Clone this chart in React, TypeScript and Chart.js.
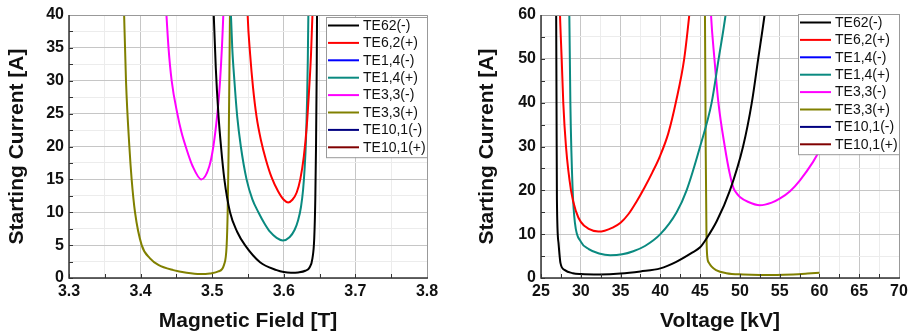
import React, { useEffect, useRef } from "react";
import { Chart, registerables } from "chart.js";

Chart.register(...registerables);

const FONT = "'Liberation Sans', Arial, Helvetica, sans-serif";

// ---------- shared series info ----------
const seriesLabels = ["TE62(-)", "TE6,2(+)", "TE1,4(-)", "TE1,4(+)", "TE3,3(-)", "TE3,3(+)", "TE10,1(-)", "TE10,1(+)"];
const seriesColors = ["#000000", "#ff0000", "#0000ff", "#0a8a80", "#ff00ff", "#808000", "#000080", "#800000"];

// ---------- left chart: magnetic field [T] vs starting current [A] ----------
const fieldTE62m = [3.5015, 3.505, 3.5086, 3.5123, 3.517, 3.5249, 3.535, 3.5458, 3.5668, 3.59, 3.6, 3.61, 3.62, 3.63, 3.636, 3.64, 3.6425, 3.644, 3.645, 3.646, 3.6465];
const currTE62m_B = [42, 32, 25, 20, 15, 10, 7, 5, 2.4, 1.2, 0.9, 0.8, 0.85, 1.1, 1.6, 3, 6, 12, 20, 32, 42];
const fieldTE62p = [3.549, 3.5495, 3.553, 3.557, 3.562, 3.568, 3.575, 3.583, 3.592, 3.6, 3.606, 3.612, 3.618, 3.623, 3.628, 3.632, 3.635, 3.638, 3.64, 3.6405];
const currTE62p_B = [42, 40, 34, 29, 24.5, 21, 18, 15.3, 13.2, 11.9, 11.5, 11.9, 13, 15, 18.5, 23, 28, 34, 40, 42];
const fieldTE14m: number[] = [];
const currTE14m_B: number[] = [];
const fieldTE14p = [3.5255, 3.528, 3.531, 3.535, 3.54, 3.548, 3.556, 3.5645, 3.573, 3.581, 3.59, 3.5985, 3.608, 3.615, 3.62, 3.624, 3.627, 3.629, 3.631, 3.6325, 3.6335, 3.6343, 3.635];
const currTE14p_B = [42, 35, 30, 24.5, 20, 15, 12, 10, 8.3, 7, 6.1, 5.7, 6.2, 7.3, 8.8, 10.8, 13.5, 16.5, 21, 27, 33, 40, 42];
const fieldTE33m = [3.435, 3.439, 3.4434, 3.4513, 3.457, 3.463, 3.4727, 3.4848, 3.496, 3.5016, 3.5072, 3.511, 3.5155, 3.516];
const currTE33m_B = [42, 35, 30, 25, 22.2, 20, 17, 15, 17, 20, 25, 30, 40, 42];
const fieldTE33p = [3.3765, 3.3796, 3.3843, 3.3875, 3.3922, 3.4015, 3.4131, 3.4248, 3.4457, 3.4643, 3.483, 3.497, 3.5086, 3.5165, 3.5202, 3.5216, 3.523, 3.5248, 3.525];
const currTE33p_B = [42, 30, 20, 15, 10, 5, 3, 2, 1.2, 0.8, 0.6, 0.7, 1.0, 2, 5, 10, 20, 40, 42];
const fieldTE101m: number[] = [];
const currTE101m_B: number[] = [];
const fieldTE101p: number[] = [];
const currTE101p_B: number[] = [];

// ---------- right chart: voltage [kV] vs starting current [A] ----------
const voltTE62m = [26.9, 26.95, 27.0, 27.2, 27.45, 28.0, 29.0, 30.0, 32.4, 35.0, 37.5, 40.0, 42.0, 44.0, 45.0, 45.8, 47.1, 48.75, 50.4, 51.5, 52.3, 53.1, 53.3];
const currTE62m_V = [63, 40, 18, 8, 3.4, 1.8, 1.1, 0.9, 0.8, 1.0, 1.5, 2.2, 3.7, 5.8, 7, 9, 13, 20, 30, 40, 50, 60, 63];
const voltTE62p = [27.35, 27.39, 27.6, 27.8, 28.14, 28.77, 29.4, 30.0, 31.0, 32.2, 33.0, 34.0, 35.0, 36.0, 37.0, 38.0, 39.0, 40.0, 41.0, 42.0, 43.0, 43.64, 43.8];
const currTE62p_V = [63, 60, 50, 40, 30, 20, 15.2, 12.8, 11.2, 10.6, 10.8, 11.5, 12.6, 14.6, 17.4, 20.6, 24.1, 28, 33, 40.5, 50, 60, 63];
const voltTE14m: number[] = [];
const currTE14m_V: number[] = [];
const voltTE14p = [28.5, 28.56, 28.69, 28.98, 29.27, 30.0, 31.0, 32.3, 33.7, 35.2, 36.6, 38.07, 40.0, 42.05, 43.3, 45.0, 46.45, 47.33, 48.2, 48.4];
const currTE14p_V = [63, 60, 40, 20, 12.5, 8.3, 6.6, 5.6, 5.2, 5.4, 6.1, 7.3, 10, 15, 20, 30, 40, 50, 60, 63];
const voltTE33m = [46.3, 46.37, 46.8, 47.3, 48.1, 48.7, 49.2, 49.6, 50.0, 51.0, 52.5, 54.0, 55.0, 56.3, 57.55, 59.2, 60.0];
const currTE33m_V = [63, 60, 50, 40, 30, 24, 20.5, 19.3, 18.5, 17.4, 16.6, 17.2, 18.1, 19.8, 22.3, 26.5, 29];
const voltTE33p = [45.55, 45.61, 45.7, 45.8, 45.9, 46.1, 46.45, 47.0, 48.3, 50.4, 52.5, 54.6, 56.7, 58.5, 60.0];
const currTE33p_V = [63, 60, 30, 10, 4.8, 3.5, 2.6, 1.8, 1.1, 0.8, 0.7, 0.7, 0.8, 1.0, 1.2];
const voltTE101m: number[] = [];
const currTE101m_V: number[] = [];
const voltTE101p: number[] = [];
const currTE101p_V: number[] = [];

const leftXs = [fieldTE62m, fieldTE62p, fieldTE14m, fieldTE14p, fieldTE33m, fieldTE33p, fieldTE101m, fieldTE101p];
const leftYs = [currTE62m_B, currTE62p_B, currTE14m_B, currTE14p_B, currTE33m_B, currTE33p_B, currTE101m_B, currTE101p_B];
const rightXs = [voltTE62m, voltTE62p, voltTE14m, voltTE14p, voltTE33m, voltTE33p, voltTE101m, voltTE101p];
const rightYs = [currTE62m_V, currTE62p_V, currTE14m_V, currTE14p_V, currTE33m_V, currTE33p_V, currTE101m_V, currTE101p_V];

function isMajor(v: number, major: number) {
  return Math.abs(v / major - Math.round(v / major)) < 1e-6;
}

const framePlugin = {
  id: "frame",
  afterDraw(chart: any) {
    const { ctx, chartArea: a, scales } = chart;
    ctx.save();
    ctx.strokeStyle = "#333";
    ctx.lineWidth = 1;
    scales.x.ticks.forEach((t: any) => {
      const px = Math.round(scales.x.getPixelForValue(t.value)) + 0.5;
      ctx.beginPath();
      ctx.moveTo(px, a.bottom);
      ctx.lineTo(px, a.bottom - 4);
      ctx.stroke();
    });
    scales.y.ticks.forEach((t: any) => {
      const py = Math.round(scales.y.getPixelForValue(t.value)) + 0.5;
      ctx.beginPath();
      ctx.moveTo(a.left, py);
      ctx.lineTo(a.left + 4, py);
      ctx.stroke();
    });
    ctx.strokeStyle = "#999";
    ctx.lineWidth = 1;
    ctx.beginPath();
    ctx.moveTo(a.left, a.top + 0.5);
    ctx.lineTo(a.right + 0.5, a.top + 0.5);
    ctx.lineTo(a.right + 0.5, a.bottom);
    ctx.stroke();
    ctx.strokeStyle = "#333";
    ctx.lineWidth = 1.5;
    ctx.beginPath();
    ctx.moveTo(a.left, a.top);
    ctx.lineTo(a.left, a.bottom);
    ctx.lineTo(a.right + 1, a.bottom);
    ctx.stroke();
    ctx.restore();
  },
};

function makeLegendPlugin(topOffset: number) {
  return {
    id: "boxLegend",
    afterDraw(chart: any) {
      const { ctx, chartArea: a } = chart;
      const w = 101;
      const rowH = 17.4;
      const h = 8 * rowH + 1;
      const x0 = Math.round(a.right - w);
      const y0 = Math.round(a.top + topOffset);
      ctx.save();
      ctx.fillStyle = "#ffffff";
      ctx.fillRect(x0, y0, w, h);
      ctx.strokeStyle = "#999";
      ctx.lineWidth = 1;
      ctx.strokeRect(x0 + 0.5, y0 + 0.5, w, h);
      chart.data.datasets.forEach((ds: any, i: number) => {
        const cy = y0 + 8.5 + i * rowH;
        ctx.strokeStyle = ds.borderColor;
        ctx.lineWidth = 2;
        ctx.beginPath();
        ctx.moveTo(x0 + 2, cy);
        ctx.lineTo(x0 + 33, cy);
        ctx.stroke();
        ctx.fillStyle = "#111";
        ctx.font = `14px ${FONT}`;
        ctx.textBaseline = "middle";
        ctx.textAlign = "left";
        ctx.fillText(ds.label, x0 + 37, cy + 0.5);
      });
      ctx.restore();
    },
  };
}

type PanelSpec = {
  xs: number[][];
  ys: number[][];
  xMin: number; xMax: number; xMinor: number; xMajor: number; xDec: number;
  yMin: number; yMax: number; yMinor: number; yMajor: number;
  xTitle: string; yTitle: string;
  yAxisWidth: number; yTitlePad: number; padRight: number; legendTop: number;
};

function buildConfig(p: PanelSpec): any {
  const datasets = seriesLabels.map((label, i) => ({
    label,
    data: p.xs[i].map((x, j) => ({ x, y: p.ys[i][j] })),
    borderColor: seriesColors[i],
    backgroundColor: seriesColors[i],
    borderWidth: 2,
    pointRadius: 0,
    showLine: true,
    fill: false,
    cubicInterpolationMode: "monotone",
  }));
  const gridColor = (major: number) => (c: any) =>
    c.tick && isMajor(c.tick.value, major) ? "#c6c6c6" : "#ececec";
  return {
    type: "scatter",
    data: { datasets },
    options: {
      responsive: false,
      animation: false,
      events: [],
      layout: { padding: { top: 15, right: p.padRight, left: 0, bottom: 0 } },
      plugins: { legend: { display: false }, tooltip: { enabled: false } },
      scales: {
        x: {
          type: "linear",
          min: p.xMin,
          max: p.xMax,
          border: { display: false },
          grid: { color: gridColor(p.xMajor), drawTicks: false, lineWidth: 1 },
          ticks: {
            stepSize: p.xMinor,
            autoSkip: false,
            maxRotation: 0,
            padding: 4,
            color: "#111",
            font: { family: FONT, size: 16, weight: "bold" },
            callback: (v: number) => (isMajor(v, p.xMajor) ? Number(v).toFixed(p.xDec) : ""),
          },
          title: {
            display: true,
            text: p.xTitle,
            color: "#111",
            font: { family: FONT, size: 21, weight: "bold" },
            padding: { top: 0, bottom: 0 },
          },
          afterFit: (s: any) => { s.height = 56; },
        },
        y: {
          type: "linear",
          min: p.yMin,
          max: p.yMax,
          border: { display: false },
          grid: { color: gridColor(p.yMajor), drawTicks: false, lineWidth: 1 },
          ticks: {
            stepSize: p.yMinor,
            autoSkip: false,
            padding: 5,
            color: "#111",
            font: { family: FONT, size: 16, weight: "bold" },
            callback: (v: number) => (isMajor(v, p.yMajor) ? String(Math.round(v)) : ""),
          },
          title: {
            display: true,
            text: p.yTitle,
            color: "#111",
            font: { family: FONT, size: 21, weight: "bold" },
            padding: { top: p.yTitlePad, bottom: 0 },
          },
          afterFit: (s: any) => { s.width = p.yAxisWidth; },
        },
      },
    },
    plugins: [framePlugin, makeLegendPlugin(p.legendTop)],
  };
}

function ChartPanel({ width, height, spec }: { width: number; height: number; spec: PanelSpec }) {
  const ref = useRef<HTMLCanvasElement | null>(null);
  useEffect(() => {
    if (!ref.current) return;
    const chart = new Chart(ref.current, buildConfig(spec));
    return () => chart.destroy();
  }, []);
  return <canvas ref={ref} width={width} height={height} style={{ display: "block", width, height }} />;
}

const leftSpec: PanelSpec = {
  xs: leftXs, ys: leftYs,
  xMin: 3.3, xMax: 3.8, xMinor: 0.05, xMajor: 0.1, xDec: 1,
  yMin: 0, yMax: 40, yMinor: 2.5, yMajor: 5,
  xTitle: "Magnetic Field [T]", yTitle: "Starting Current [A]",
  yAxisWidth: 69, yTitlePad: 5, padRight: 33, legendTop: 2,
};

const rightSpec: PanelSpec = {
  xs: rightXs, ys: rightYs,
  xMin: 25, xMax: 70, xMinor: 2.5, xMajor: 5, xDec: 0,
  yMin: 0, yMax: 60, yMinor: 5, yMajor: 10,
  xTitle: "Voltage [kV]", yTitle: "Starting Current [A]",
  yAxisWidth: 81, yTitlePad: 15, padRight: 14, legendTop: -1,
};

export default function App() {
  return (
    <>
      <style>{`html,body{margin:0;padding:0;background:#fff;}`}</style>
      <div style={{ display: "flex", width: 913, height: 334 }}>
        <ChartPanel width={460} height={334} spec={leftSpec} />
        <ChartPanel width={453} height={334} spec={rightSpec} />
      </div>
    </>
  );
}
